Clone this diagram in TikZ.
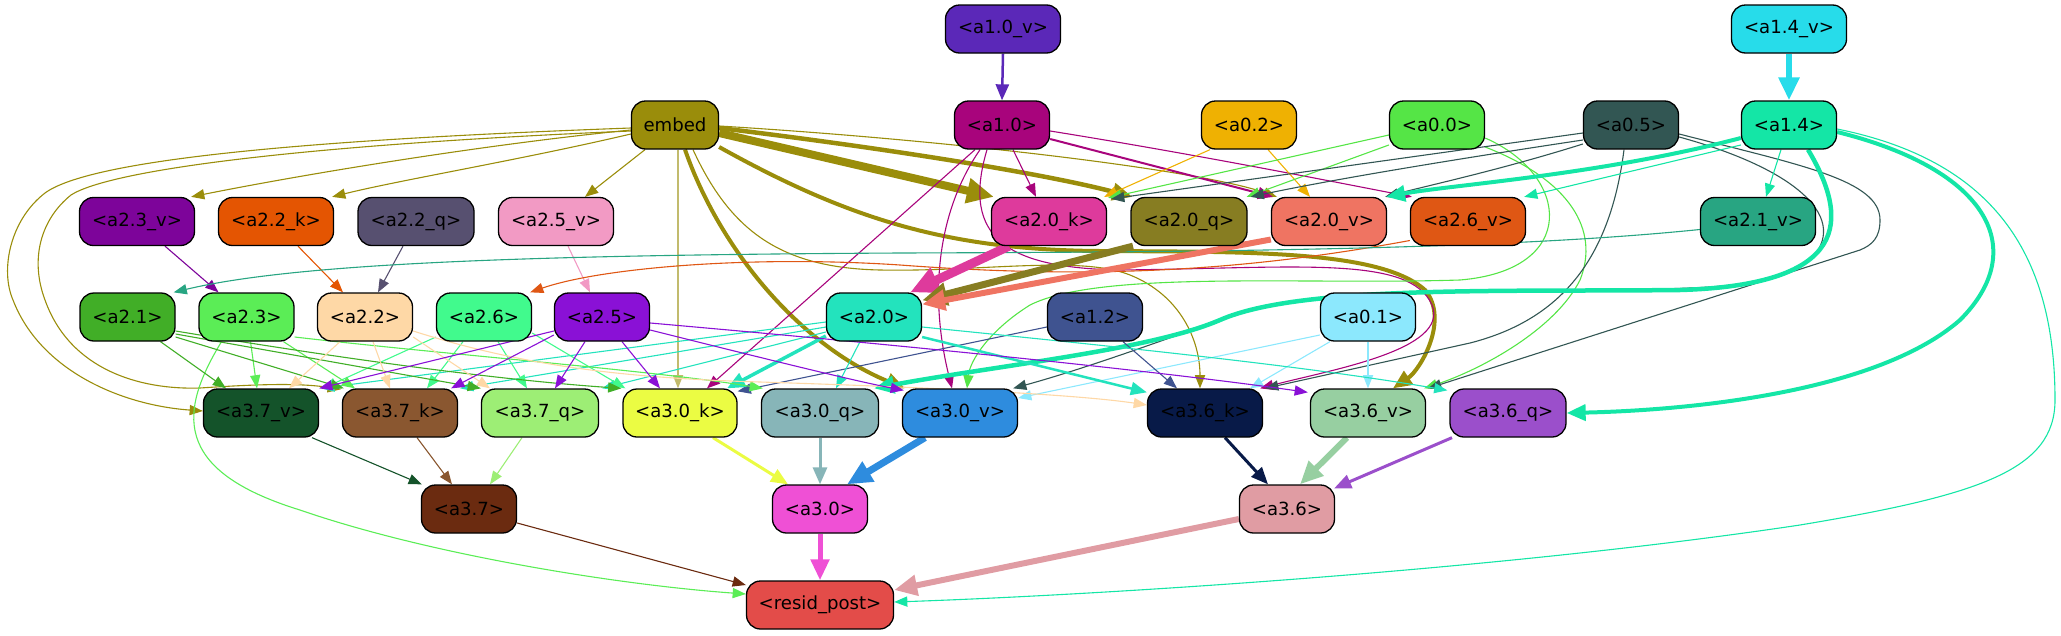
\documentclass[tikz,border=0pt]{standalone}
\usepackage{fontspec}
\setmainfont{DejaVu Sans}
\usetikzlibrary{arrows.meta}
\pgfdeclarelayer{edges}
\pgfsetlayers{edges,main}
\definecolor{cEmbed}{HTML}{9A8D0B}
\definecolor{cAv}{HTML}{5B28B8}
\definecolor{cA}{HTML}{A8047C}
\definecolor{cBv}{HTML}{27DCEA}
\definecolor{cB}{HTML}{14E6A6}
\definecolor{c02}{HTML}{EFB102}
\definecolor{c00}{HTML}{55E546}
\definecolor{c05}{HTML}{325653}
\definecolor{c01}{HTML}{8CE8FD}
\definecolor{c12}{HTML}{3F5390}
\definecolor{c23v}{HTML}{7D049A}
\definecolor{c22k}{HTML}{E45502}
\definecolor{c22q}{HTML}{575070}
\definecolor{c25v}{HTML}{F29AC4}
\definecolor{c20k}{HTML}{DE3A9C}
\definecolor{c20q}{HTML}{877D22}
\definecolor{c20v}{HTML}{EF7462}
\definecolor{c26v}{HTML}{DF5714}
\definecolor{c21v}{HTML}{28A582}
\definecolor{c21}{HTML}{41AE27}
\definecolor{c23}{HTML}{5BED56}
\definecolor{c22}{HTML}{FED8A6}
\definecolor{c26}{HTML}{41FA8D}
\definecolor{c25}{HTML}{8A11D6}
\definecolor{c20}{HTML}{23E3BD}
\definecolor{c37v}{HTML}{14532A}
\definecolor{c37k}{HTML}{8A5730}
\definecolor{c37q}{HTML}{9DEE75}
\definecolor{c30k}{HTML}{EBFC43}
\definecolor{c30q}{HTML}{87B5B8}
\definecolor{c30v}{HTML}{2E8CDE}
\definecolor{c36k}{HTML}{081A48}
\definecolor{c36v}{HTML}{97CFA1}
\definecolor{c36q}{HTML}{9B4FCB}
\definecolor{c37}{HTML}{6B2B10}
\definecolor{c30}{HTML}{EF50D5}
\definecolor{c36}{HTML}{E09CA3}
\definecolor{cres}{HTML}{E34C49}
\tikzset{
  n/.style={draw=black, line width=1.3pt, rounded corners=14pt, minimum height=48pt,
    inner sep=0pt, font=\fontsize{18.1}{20}\selectfont, text=black},
  ed/.style 2 args={draw=#1, line width=#2, -{Triangle[length=11pt 2, width=8pt 2]}}
}
\begin{document}
\begin{tikzpicture}[x=1pt,y=-1pt]
\useasboundingbox (0,0) rectangle (2061,635);
% row 0
\node[n, fill=cAv, minimum width=115pt] (a10v) at (1003,29) {<a1.0\_v>};
\node[n, fill=cBv, minimum width=115pt] (a14v) at (1789,29) {<a1.4\_v>};
% row 1
\node[n, fill=cEmbed, minimum width=87pt] (embed) at (675,125) {embed};
\node[n, fill=cA, minimum width=95pt] (a10) at (1002,125) {<a1.0>};
\node[n, fill=c02, minimum width=95pt] (a02) at (1249,125) {<a0.2>};
\node[n, fill=c00, minimum width=95pt] (a00) at (1437,125) {<a0.0>};
\node[n, fill=c05, minimum width=95pt] (a05) at (1631,125) {<a0.5>};
\node[n, fill=cB, minimum width=95pt] (a14) at (1789,125) {<a1.4>};
% row 2
\node[n, fill=c23v, minimum width=115pt] (a23v) at (137,221.5) {<a2.3\_v>};
\node[n, fill=c22k, minimum width=115pt] (a22k) at (276,221.5) {<a2.2\_k>};
\node[n, fill=c22q, minimum width=116pt] (a22q) at (416,221.5) {<a2.2\_q>};
\node[n, fill=c25v, minimum width=115pt] (a25v) at (556,221.5) {<a2.5\_v>};
\node[n, fill=c20k, minimum width=115pt] (a20k) at (1049,221.5) {<a2.0\_k>};
\node[n, fill=c20q, minimum width=116pt] (a20q) at (1189,221.5) {<a2.0\_q>};
\node[n, fill=c20v, minimum width=115pt] (a20v) at (1329,221.5) {<a2.0\_v>};
\node[n, fill=c26v, minimum width=115pt] (a26v) at (1468,221.5) {<a2.6\_v>};
\node[n, fill=c21v, minimum width=115pt] (a21v) at (1758,221.5) {<a2.1\_v>};
% row 3
\node[n, fill=c21, minimum width=95pt] (a21) at (127.5,317) {<a2.1>};
\node[n, fill=c23, minimum width=95pt] (a23) at (246.5,317) {<a2.3>};
\node[n, fill=c22, minimum width=95pt] (a22) at (365,317) {<a2.2>};
\node[n, fill=c26, minimum width=95pt] (a26) at (484,317) {<a2.6>};
\node[n, fill=c25, minimum width=95pt] (a25) at (602,317) {<a2.5>};
\node[n, fill=c20, minimum width=95pt] (a20) at (874,317) {<a2.0>};
\node[n, fill=c12, minimum width=95pt] (a12) at (1095,317) {<a1.2>};
\node[n, fill=c01, minimum width=95pt] (a01) at (1368,317) {<a0.1>};
% row 4
\node[n, fill=c37v, minimum width=115pt] (a37v) at (261,413) {<a3.7\_v>};
\node[n, fill=c37k, minimum width=115pt] (a37k) at (400,413) {<a3.7\_k>};
\node[n, fill=c37q, minimum width=117pt] (a37q) at (540,413) {<a3.7\_q>};
\node[n, fill=c30k, minimum width=114pt] (a30k) at (680,413) {<a3.0\_k>};
\node[n, fill=c30q, minimum width=117pt] (a30q) at (820,413) {<a3.0\_q>};
\node[n, fill=c30v, minimum width=115pt] (a30v) at (960,413) {<a3.0\_v>};
\node[n, fill=c36k, minimum width=115pt] (a36k) at (1205,413) {<a3.6\_k>};
\node[n, fill=c36v, minimum width=115pt] (a36v) at (1368,413) {<a3.6\_v>};
\node[n, fill=c36q, minimum width=116pt] (a36q) at (1508,413) {<a3.6\_q>};
% row 5
\node[n, fill=c37, minimum width=95pt] (a37) at (469,509) {<a3.7>};
\node[n, fill=c30, minimum width=95pt] (a30) at (820,509) {<a3.0>};
\node[n, fill=c36, minimum width=95pt] (a36) at (1287,509) {<a3.6>};
% row 6
\node[n, fill=cres, minimum width=147pt] (res) at (820,605) {<resid\_post>};

\begin{pgfonlayer}{edges}
% top
\draw[ed={cAv}{2.5pt}] (a10v.south) -- (a10.north);
\draw[ed={cBv}{6pt}] (a14v.south) -- (a14.north);
% embed
\draw[ed={cEmbed}{1.1pt}] ([yshift=-5pt]embed.west) .. controls (480,145) and (300,175) .. ([xshift=-4pt]a23v.north east);
\draw[ed={cEmbed}{1.1pt}] ([yshift=-9pt]embed.west) .. controls (520,160) and (400,180) .. ([xshift=-2pt]a22k.north east);
\draw[ed={cEmbed}{1.1pt}] ([xshift=-30pt]embed.south) -- ([xshift=29pt]a25v.north);
\draw[ed={cEmbed}{1.1pt}] ([yshift=-3pt]embed.west) .. controls (300,140) and (90,160) .. (45,193) .. controls (10,220) and (0,270) .. (13,300) .. controls (40,370) and (120,405) .. ([yshift=2pt]a37v.west);
\draw[ed={cEmbed}{1.1pt}] ([yshift=-6pt]embed.west) .. controls (300,145) and (110,170) .. (71,195) .. controls (40,220) and (30,260) .. (45,300) .. controls (70,370) and (140,390) .. (200,388) .. controls (260,384) and (300,383) .. ([xshift=-1pt,yshift=-1pt]a37k.north west);
\draw[ed={cEmbed!60}{1.1pt}] ([xshift=3pt]embed.south) -- ([xshift=-2pt]a30k.north);
\draw[ed={cEmbed}{4pt}] ([xshift=10pt]embed.south) .. controls (720,250) and (800,345) .. ([xshift=-55pt]a30v.north);
\draw[ed={cEmbed}{8pt}] ([yshift=-8pt]embed.east) -- ([xshift=3pt]a20k.north west);
\draw[ed={cEmbed}{4.5pt}] ([yshift=-3pt]embed.east) .. controls (900,150) and (1050,175) .. ([xshift=2pt]a20q.north west);
\draw[ed={cEmbed}{1.1pt}] ([yshift=-1pt]embed.east) .. controls (950,140) and (1200,170) .. ([xshift=6pt]a20v.north west);
\draw[ed={cEmbed}{4pt}] ([yshift=-22pt]embed.east) .. controls (850,220) and (950,250) .. (1100,251) .. controls (1250,252) and (1380,250) .. (1425,290) .. controls (1450,320) and (1420,370) .. ([xshift=25pt]a36v.north);
\draw[ed={cEmbed}{1.1pt}] ([xshift=18pt]embed.south) .. controls (730,230) and (780,268) .. (880,270) .. controls (980,272) and (1080,255) .. (1130,275) .. controls (1180,295) and (1200,340) .. ([xshift=-5pt]a36k.north);
% a1.0
\draw[ed={cA}{1.1pt}] ([xshift=11pt]a10.south) -- ([xshift=-13pt]a20k.north);
\draw[ed={cA}{2pt}] ([yshift=-14pt]a10.east) -- ([xshift=2pt]a20v.north west);
\draw[ed={cA}{1.1pt}] ([xshift=-27pt]a10.south) -- ([xshift=27pt]a30k.north);
\draw[ed={cA}{1.1pt}] ([xshift=-22pt]a10.south) .. controls (935,215) and (930,300) .. ([xshift=-8pt]a30v.north);
\draw[ed={cA}{1.1pt}] ([xshift=-15pt]a10.south) .. controls (960,240) and (1010,268) .. (1120,270) .. controls (1300,268) and (1410,255) .. (1432,305) .. controls (1450,350) and (1330,370) .. ([xshift=-3pt]a36k.north east);
\draw[ed={cA}{1.1pt}] ([yshift=-6pt]a10.east) .. controls (1200,155) and (1350,185) .. ([xshift=2pt]a26v.north west);
% a0.2
\draw[ed={c02}{1.1pt}] ([xshift=19pt]a02.south) -- ([xshift=-19pt]a20v.north);
\draw[ed={c02}{1.1pt}] ([xshift=-39pt]a02.south) -- ([xshift=-3pt]a20k.north east);
% a0.0
\draw[ed={c00}{1.1pt}] ([yshift=-10pt]a00.west) -- ([xshift=1pt,yshift=-1pt]a20k.north east);
\draw[ed={c00}{1.1pt}] ([yshift=-20pt]a00.west) -- ([xshift=-1pt]a20q.north east);
\draw[ed={c00}{1.1pt}] ([yshift=-13pt]a00.east) .. controls (1570,175) and (1580,270) .. (1460,280) .. controls (1300,285) and (1100,270) .. (1030,305) .. controls (990,330) and (970,360) .. ([xshift=7pt]a30v.north);
\draw[ed={c00}{1.1pt}] ([yshift=-22pt]a00.east) .. controls (1570,180) and (1600,230) .. (1580,280) .. controls (1555,330) and (1480,370) .. ([xshift=-2pt]a36v.north east);
% a0.5
\draw[ed={c05}{1.1pt}] ([yshift=-8pt]a05.west) -- ([xshift=4pt,yshift=-2pt]a20k.north east);
\draw[ed={c05}{1.1pt}] ([yshift=-15pt]a05.west) .. controls (1450,160) and (1330,180) .. ([xshift=3pt]a20q.north east);
\draw[ed={c05}{1.1pt}] ([yshift=-19pt]a05.west) .. controls (1500,170) and (1430,185) .. ([xshift=-2pt]a20v.north east);
\draw[ed={c05}{1.1pt}] ([yshift=-12pt]a05.east) .. controls (1800,170) and (1850,220) .. (1810,260) .. controls (1770,290) and (1700,288) .. (1600,290) .. controls (1450,290) and (1300,290) .. (1220,320) .. controls (1150,345) and (1080,370) .. ([xshift=-5pt]a30v.north east);
\draw[ed={c05}{1.1pt}] ([yshift=-9pt]a05.east) .. controls (1800,165) and (1880,180) .. (1880,220) .. controls (1880,238) and (1872,245) .. (1860,250) -- ([xshift=2pt]a36v.north east);
\draw[ed={c05}{1.1pt}] ([xshift=-7pt]a05.south) .. controls (1610,260) and (1560,320) .. (1470,343) -- ([xshift=2pt]a36k.north east);
% a1.4
\draw[ed={cB}{4pt}] ([yshift=-13pt]a14.west) .. controls (1600,175) and (1450,185) .. ([xshift=-1pt]a20v.north east);
\draw[ed={cB}{1.1pt}] ([yshift=-20pt]a14.west) -- ([xshift=-2pt]a26v.north east);
\draw[ed={cB}{1.1pt}] ([xshift=-8pt]a14.south) -- ([xshift=8pt]a21v.north);
\draw[ed={cB}{4.5pt}] ([xshift=19pt]a14.south) .. controls (1850,220) and (1850,285) .. (1680,290) .. controls (1500,292) and (1300,285) .. (1220,320) .. controls (1150,350) and (1000,365) .. ([xshift=-5pt]a30q.north east);
\draw[ed={cB}{4pt}] ([yshift=-7pt]a14.east) .. controls (1990,170) and (2030,250) .. (1960,320) .. controls (1880,390) and (1700,410) .. (a36q.east);
\draw[ed={cB}{1.1pt}] ([yshift=-4pt]a14.east) .. controls (1990,160) and (2055,250) .. (2055,400) .. controls (2055,470) and (1980,495) .. (1800,525) .. controls (1500,570) and (1100,595) .. ([yshift=3pt]res.east);
% a0.1
\draw[ed={c01}{1.1pt}] (a01.south) -- (a36v.north);
\draw[ed={c01}{1.1pt}] ([xshift=-38pt]a01.south) -- ([xshift=45pt]a36k.north);
\draw[ed={c01}{1.1pt}] ([yshift=-18pt]a01.west) -- ([yshift=15pt]a30v.east);
% a1.2
\draw[ed={c12}{1.1pt}] ([xshift=28pt]a12.south) -- ([xshift=-28pt]a36k.north);
\draw[ed={c12}{1.1pt}] ([yshift=-10pt]a12.west) -- ([yshift=-3pt]a30k.north east);
% a2.0
\draw[ed={c20}{3.5pt}] ([yshift=-19pt]a20.west) -- ([xshift=47pt]a30k.north);
\draw[ed={c20}{1.1pt}] ([xshift=-14pt]a20.south) -- ([xshift=16pt]a30q.north);
\draw[ed={c20}{2.5pt}] ([yshift=-20pt]a20.east) -- ([yshift=-4pt]a36k.north west);
\draw[ed={c20}{1.1pt}] ([yshift=-10pt]a20.east) .. controls (1100,345) and (1300,365) .. ([xshift=-2pt,yshift=-2pt]a36q.north west);
\draw[ed={c20}{1.1pt}] ([yshift=-5pt]a20.west) -- ([xshift=2pt]a37v.north east);
\draw[ed={c20}{1.1pt}] ([yshift=-10pt]a20.west) -- ([xshift=2pt]a37k.north east);
\draw[ed={c20}{1.1pt}] ([yshift=-15pt]a20.west) -- ([xshift=3pt]a37q.north east);
% a2.6
\draw[ed={c26}{1.1pt}] ([yshift=-20pt]a26.west) -- ([xshift=4pt]a37v.north east);
\draw[ed={c26}{1.1pt}] ([xshift=-21pt]a26.south) -- ([xshift=27pt]a37k.north);
\draw[ed={c26}{1.1pt}] ([xshift=14pt]a26.south) -- ([xshift=-13pt]a37q.north);
\draw[ed={c26}{1.1pt}] ([yshift=-16pt]a26.east) -- ([xshift=3pt]a30k.north west);
% a2.3
\draw[ed={c23}{1.1pt}] ([xshift=4pt]a23.south) -- ([xshift=-4pt]a37v.north);
\draw[ed={c23}{1.1pt}] ([xshift=37pt]a23.south) -- ([xshift=-45pt]a37k.north);
\draw[ed={c23}{1.1pt}] ([yshift=-20pt]a23.east) .. controls (450,355) and (650,370) .. ([xshift=2pt]a30q.north west);
\draw[ed={c23}{1.1pt}] ([xshift=-25pt]a23.south) .. controls (180,410) and (170,470) .. (300,510) .. controls (430,555) and (620,585) .. ([yshift=11pt]res.west);
% a2.1
\draw[ed={c21}{1.1pt}] ([xshift=33pt]a21.south) -- ([xshift=-35pt]a37v.north);
\draw[ed={c21}{1.1pt}] ([yshift=-20pt]a21.east) -- ([xshift=2pt]a37k.north west);
\draw[ed={c21}{1.1pt}] ([yshift=-17pt]a21.east) -- (a37q.north west);
\draw[ed={c21}{1.1pt}] ([yshift=-14pt]a21.east) .. controls (350,360) and (500,380) .. ([xshift=-1pt]a30k.north west);
% a2.2
\draw[ed={c22}{1.1pt}] ([xshift=-25pt]a22.south) -- ([xshift=28pt]a37v.north);
\draw[ed={c22}{1.1pt}] ([xshift=8pt]a22.south) -- ([xshift=-10pt]a37k.north);
\draw[ed={c22}{1.1pt}] ([yshift=-20pt]a22.east) -- ([xshift=-50pt]a37q.north);
\draw[ed={c22}{1.1pt}] ([yshift=-14pt]a22.east) .. controls (520,365) and (620,378) .. (760,382) .. controls (950,388) and (1080,395) .. ([yshift=8pt]a36k.west);
% a2.5
\draw[ed={c25}{1.1pt}] ([xshift=-17pt]a25.south) -- ([xshift=15pt]a37q.north);
\draw[ed={c25}{1.1pt}] ([xshift=20pt]a25.south) -- ([xshift=-20pt]a30k.north);
\draw[ed={c25}{1.1pt}] ([yshift=-18pt]a25.west) -- ([xshift=-7pt]a37k.north east);
\draw[ed={c25}{1.1pt}] ([yshift=-14pt]a25.west) -- (a37v.north east);
\draw[ed={c25}{1.1pt}] ([yshift=-13pt]a25.east) .. controls (750,355) and (850,380) .. ([xshift=2pt,yshift=-2pt]a30v.north west);
\draw[ed={c25}{1.1pt}] ([yshift=-6pt]a25.east) .. controls (900,345) and (1150,370) .. ([xshift=-2pt,yshift=-4pt]a36v.north west);
% layer-2 value nodes
\draw[ed={c23v}{1.1pt}] ([xshift=28pt]a23v.south) -- ([xshift=-28pt]a23.north);
\draw[ed={c22k}{1.1pt}] ([xshift=22pt]a22k.south) -- ([xshift=-22pt]a22.north);
\draw[ed={c22q}{1.1pt}] ([xshift=-13pt]a22q.south) -- ([xshift=13pt]a22.north);
\draw[ed={c25v}{1.1pt}] ([xshift=12pt]a25v.south) -- ([xshift=-12pt]a25.north);
\draw[ed={c26v}{1.1pt}] ([yshift=-19pt]a26v.west) .. controls (1250,270) and (1100,280) .. (900,265) .. controls (750,255) and (600,268) .. ([xshift=-2pt]a26.north east);
\draw[ed={c21v}{1.1pt}] ([yshift=-8pt]a21v.west) .. controls (1500,250) and (1200,252) .. (900,253) .. controls (550,255) and (300,262) .. ([xshift=-2pt]a21.north east);
\draw[ed={c20k}{9pt}] ([xshift=-40pt]a20k.south) -- ([xshift=-12pt]a20.north east);
\draw[ed={c20q}{7pt}] ([xshift=-56pt]a20q.south) -- ([yshift=-8pt]a20.north east);
\draw[ed={c20v}{6pt}] ([yshift=-18pt]a20v.west) -- ([yshift=-12pt]a20.north east);
% layer 3
\draw[ed={c37v}{1.1pt}] ([xshift=51pt]a37v.south) -- ([xshift=1pt]a37.north west);
\draw[ed={c37k}{1.1pt}] ([xshift=17pt]a37k.south) -- ([xshift=-17pt]a37.north);
\draw[ed={c37q}{1.1pt}] ([xshift=-18pt]a37q.south) -- ([xshift=21pt]a37.north);
\draw[ed={c30k}{3pt}] ([xshift=33pt]a30k.south) -- ([xshift=-32pt]a30.north);
\draw[ed={c30q}{3pt}] (a30q.south) -- (a30.north);
\draw[ed={c30v}{7pt}] ([xshift=-35pt]a30v.south) -- ([xshift=27pt]a30.north);
\draw[ed={c36k}{3pt}] ([xshift=20pt]a36k.south) -- ([xshift=-19pt]a36.north);
\draw[ed={c36v}{6pt}] ([xshift=-21pt]a36v.south) -- ([xshift=13pt]a36.north);
\draw[ed={c36q}{3pt}] ([xshift=-56pt]a36q.south) -- ([xshift=-1pt,yshift=-4pt]a36.north east);
\draw[ed={c37}{1.1pt}] ([yshift=-14pt]a37.east) -- ([yshift=20pt]res.west);
\draw[ed={c30}{5pt}] (a30.south) -- (res.north);
\draw[ed={c36}{6pt}] ([yshift=-10pt]a36.west) -- ([yshift=15pt]res.east);
\end{pgfonlayer}
\end{tikzpicture}
\end{document}
